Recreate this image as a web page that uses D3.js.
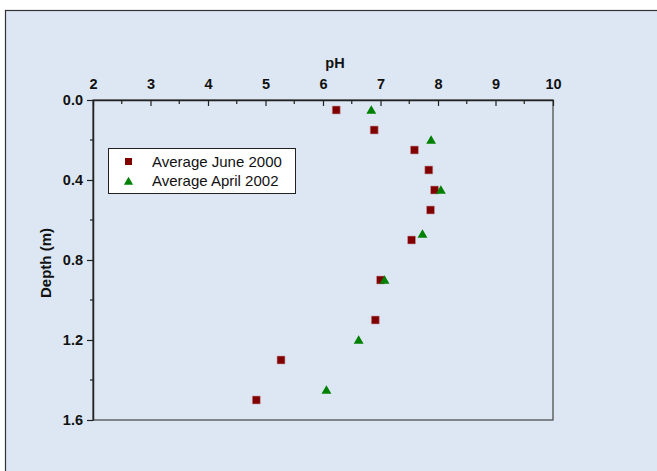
<!DOCTYPE html>
<html>
<head>
<meta charset="utf-8">
<script src="https://d3js.org/d3.v7.min.js"></script>
<style>
  body { margin: 0; background: #fff; }
  text { font-family: "Liberation Sans", Arial, sans-serif; }
</style>
</head>
<body>
<script>
// values
var juneDepth = [0.05, 0.15, 0.25, 0.35, 0.45, 0.55, 0.70, 0.90, 1.10, 1.30, 1.50];
var junePH    = [6.23, 6.89, 7.59, 7.84, 7.94, 7.87, 7.54, 7.00, 6.91, 5.27, 4.84];
var aprilDepth = [0.05, 0.20, 0.45, 0.67, 0.90, 1.20, 1.45];
var aprilPH    = [6.84, 7.88, 8.05, 7.73, 7.07, 6.62, 6.06];
var xTicks = [2, 3, 4, 5, 6, 7, 8, 9, 10];
var yTicks = [0.0, 0.4, 0.8, 1.2, 1.6];
var seriesNames = ["Average June 2000", "Average April 2002"];

var width = 657, height = 471;
var margin = { top: 100, right: 104, bottom: 51, left: 93 };

var svg = d3.select("body")
    .append("svg")
    .attr("width", width)
    .attr("height", height);

// outer panel, runs off the right and bottom edge
svg.append("rect")
    .attr("x", 5.5).attr("y", 10.5)
    .attr("width", width + 10).attr("height", height + 10)
    .attr("fill", "#dce7f3")
    .attr("stroke", "#333")
    .attr("stroke-width", 1.2);

var x = d3.scaleLinear().domain([2, 10]).range([margin.left, width - margin.right]);
var y = d3.scaleLinear().domain([0, 1.6]).range([margin.top, height - margin.bottom]);

// plot frame
svg.append("rect")
    .attr("x", x(2)).attr("y", y(0))
    .attr("width", x(10) - x(2)).attr("height", y(1.6) - y(0))
    .attr("fill", "none")
    .attr("stroke", "#444")
    .attr("stroke-width", 1.2);

// top axis: ticks point down into the plot
var minorX = d3.range(2.5, 10, 1);
svg.append("g").selectAll("line")
    .data(minorX).enter().append("line")
    .attr("x1", d => x(d)).attr("x2", d => x(d))
    .attr("y1", y(0)).attr("y2", y(0) + 4)
    .attr("stroke", "#222").attr("stroke-width", 1.2);

var gx = svg.append("g")
    .attr("transform", `translate(0,${y(0)})`)
    .call(d3.axisTop(x).tickValues(xTicks).tickFormat(d3.format("d")).tickSizeInner(-6).tickSizeOuter(0).tickPadding(11));
gx.select(".domain").attr("stroke", "#222").attr("stroke-width", 1.5);
gx.selectAll(".tick line").attr("stroke", "#222").attr("stroke-width", 1.2);
gx.selectAll(".tick text")
    .attr("fill", "#111")
    .attr("font-size", "14.5px")
    .attr("font-weight", "bold")
    .style("font-family", "Liberation Sans, Arial, sans-serif");

// left axis: ticks point outward
var minorY = [0.2, 0.6, 1.0, 1.4];
svg.append("g").selectAll("line")
    .data(minorY).enter().append("line")
    .attr("x1", x(2) - 3).attr("x2", x(2))
    .attr("y1", d => y(d)).attr("y2", d => y(d))
    .attr("stroke", "#222").attr("stroke-width", 1.2);

var gy = svg.append("g")
    .attr("transform", `translate(${x(2)},0)`)
    .call(d3.axisLeft(y).tickValues(yTicks).tickFormat(d3.format(".1f")).tickSizeInner(6).tickSizeOuter(0).tickPadding(4));
gy.select(".domain").attr("stroke", "#222").attr("stroke-width", 1.5);
gy.selectAll(".tick line").attr("stroke", "#222").attr("stroke-width", 1.2);
gy.selectAll(".tick text")
    .attr("fill", "#111")
    .attr("font-size", "14.5px")
    .attr("font-weight", "bold")
    .style("font-family", "Liberation Sans, Arial, sans-serif");

// axis titles
svg.append("text")
    .attr("x", 335)
    .attr("y", 68)
    .attr("text-anchor", "middle")
    .attr("font-size", "14.5px")
    .attr("font-weight", "bold")
    .attr("fill", "#111")
    .text("pH");

svg.append("text")
    .attr("transform", `translate(51,${(y(0) + y(1.6)) / 2 + 3}) rotate(-90)`)
    .attr("text-anchor", "middle")
    .attr("font-size", "15px")
    .attr("font-weight", "bold")
    .attr("fill", "#111")
    .text("Depth (m)");

// data
var june = juneDepth.map((d, i) => ({ depth: d, ph: junePH[i] }));
var april = aprilDepth.map((d, i) => ({ depth: d, ph: aprilPH[i] }));

var square = d3.symbol().type(d3.symbolSquare).size(64);
var triangle = d3.symbol().type(d3.symbolTriangle).size(42);

svg.append("g").selectAll("path")
    .data(june).enter().append("path")
    .attr("d", square)
    .attr("transform", d => `translate(${x(d.ph)},${y(d.depth)})`)
    .attr("fill", "#800000")
    .attr("stroke", "#c9a0a8")
    .attr("stroke-width", 0.6);

svg.append("g").selectAll("path")
    .data(april).enter().append("path")
    .attr("d", triangle)
    .attr("transform", d => `translate(${x(d.ph)},${y(d.depth) + 1})`)
    .attr("fill", "#008000");

// legend
var lg = svg.append("g").attr("transform", "translate(108,148)");
lg.append("rect")
    .attr("x", 0.5).attr("y", 0.5)
    .attr("width", 187).attr("height", 45)
    .attr("fill", "#fff")
    .attr("stroke", "#222")
    .attr("stroke-width", 1);

lg.append("path").attr("d", d3.symbol().type(d3.symbolSquare).size(49)).attr("transform", "translate(20.5,13.5)").attr("fill", "#800000");
lg.append("path").attr("d", d3.symbol().type(d3.symbolTriangle).size(36)).attr("transform", "translate(20.5,34)").attr("fill", "#008000");

lg.selectAll("text.lab")
    .data(seriesNames).enter().append("text")
    .attr("class", "lab")
    .attr("x", 44)
    .attr("y", (d, i) => 18.7 + i * 19.3)
    .attr("font-size", "15px")
    .attr("fill", "#111")
    .text(d => d);
</script>
</body>
</html>
